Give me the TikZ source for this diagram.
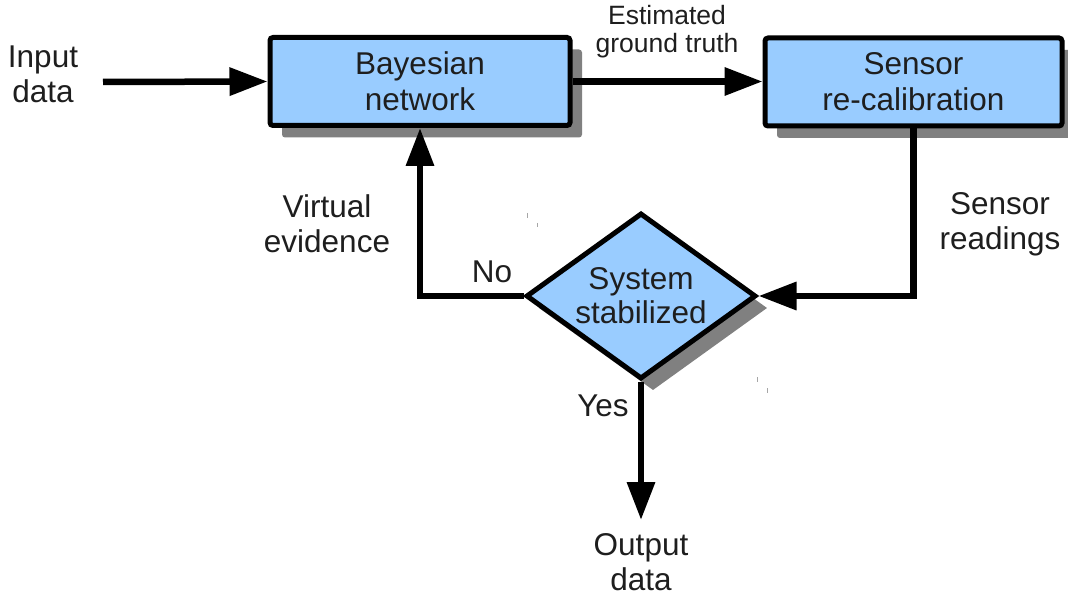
\documentclass[tikz,border=0pt]{standalone}
\usepackage{fontspec}
\setmainfont{Liberation Sans}
\usetikzlibrary{arrows.meta,shapes.geometric,shadows}
\definecolor{boxblue}{HTML}{99CCFF}
\definecolor{shadowgray}{HTML}{808080}
\definecolor{ink}{HTML}{1E1E1E}
\tikzset{
  flowbox/.style={rectangle, draw=black, line width=5pt, fill=boxblue,
    rounded corners=3pt, align=center, text=ink, inner sep=0pt,
    font=\fontsize{31.5}{36}\selectfont,
    drop shadow={shadow xshift=12pt, shadow yshift=-12pt, opacity=1, fill=shadowgray}},
  decision/.style={diamond, draw=black, line width=5pt, fill=boxblue,
    align=center, text=ink, inner sep=0pt, aspect=1.39,
    font=\fontsize{31.5}{34}\selectfont,
    drop shadow={shadow xshift=12pt, shadow yshift=-12pt, opacity=1, fill=shadowgray}},
  flow/.style={line width=6.5pt, -{Triangle[length=38pt,width=27pt]}},
  lbl/.style={align=center, text=ink, inner sep=0pt, font=\fontsize{31.5}{35}\selectfont},
  smalllbl/.style={align=center, text=ink, inner sep=0pt, font=\fontsize{26.5}{28}\selectfont},
  speck/.style={draw=gray!70, line width=0.8pt}
}
\begin{document}
\begin{tikzpicture}[x=1pt,y=-1pt]
\useasboundingbox (0,0) rectangle (1068,596);

% process boxes
\node[flowbox, minimum width=300pt, minimum height=88pt] (bn) at (420,81.5) {Bayesian\\network};
\node[flowbox, minimum width=297pt, minimum height=88pt] (sr) at (913.5,82) {Sensor\\re-calibration};

% decision
\node[decision, minimum width=230pt, minimum height=166pt] (ss) at (641,296) {System\\stabilized};

% free ends
\coordinate (in) at (103,82);
\coordinate (out) at (641,520);

% connectors
\draw[flow] (in) -- (bn.west);
\draw[flow] (bn.east) -- (bn.east -| sr.west);
\draw[flow] (sr.south) |- (ss.east);
\draw[flow] (ss.west) -| (bn.south);
\draw[flow] (ss.south) -- (out);

% labels
\node[lbl] (lin) at (43,74) {Input\\data};
\node[smalllbl] (lest) at (667,32) {Estimated\\ground truth};
\node[lbl] (lve) at (327,224) {Virtual\\evidence};
\node[lbl] (lsr) at (1000,224) {Sensor\\readings};
\node[lbl] (lno) at (492,272) {No};
\node[lbl] (lyes) at (603,406) {Yes};
\node[lbl] (lout) at (641,562) {Output\\data};

% stray specks
\draw[speck] (527.7,213) -- (527.7,218);
\draw[speck] (537,223) -- (537,227);
\draw[speck] (757,377) -- (757,382);
\draw[speck] (767,388) -- (767,393);
\end{tikzpicture}
\end{document}
